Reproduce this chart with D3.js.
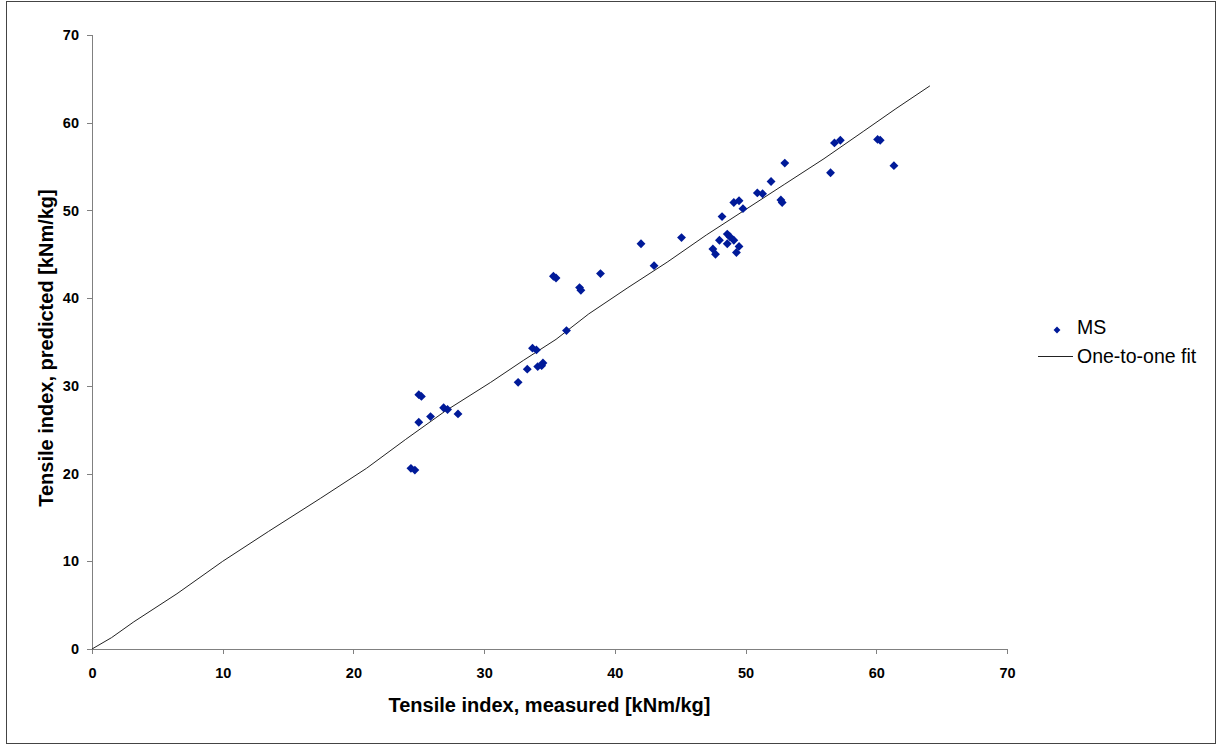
<!DOCTYPE html>
<html>
<head>
<meta charset="utf-8">
<script src="https://cdn.jsdelivr.net/npm/d3@7"></script>
<style>
  body { margin: 0; background: #fff; }
  svg { display: block; font-family: "Liberation Sans", Arial, sans-serif; }
</style>
</head>
<body>
<svg id="chart" width="1219" height="745"></svg>
<script>
// Measured vs predicted tensile index (MS series)
var msMeasured = [24.4, 24.7, 25.0, 25.2, 25.0, 25.9, 26.9, 27.2, 28.0, 32.6, 33.3, 33.7, 34.0, 34.1, 34.5, 34.4, 36.3,
    35.3, 35.5, 37.3, 37.4, 38.9, 42.0, 43.0, 45.1,
    47.5, 47.7, 48.0, 48.2, 48.6, 48.8, 49.1, 48.6, 49.5, 49.3, 49.1, 49.5, 49.8, 50.9, 51.3, 51.95, 52.7, 52.8, 53.0,
    56.5, 56.8, 57.25, 60.1, 60.3, 61.35];
var msPredicted = [20.6, 20.4, 29.0, 28.8, 25.85, 26.5, 27.5, 27.3, 26.8, 30.4, 31.9, 34.3, 34.1, 32.2, 32.6, 32.3, 36.3,
    42.5, 42.3, 41.2, 40.9, 42.8, 46.2, 43.7, 46.9,
    45.6, 45.0, 46.6, 49.3, 47.3, 47.0, 46.6, 46.2, 45.9, 45.2, 50.9, 51.1, 50.2, 52.0, 51.9, 53.3, 51.2, 50.9, 55.4,
    54.3, 57.7, 58.0, 58.1, 58.0, 55.1];

// One-to-one fit line, read as a polyline
var fitX = [0, 1.5, 3.2, 6.5, 10, 13.5, 17.5, 21, 24, 27, 30.5, 33, 35.5, 38, 41, 44, 47, 50, 53, 56, 59, 61.5, 64.1];
var fitY = [0, 1.3, 3.1, 6.3, 10.0, 13.4, 17.2, 20.6, 23.9, 27.1, 30.4, 32.9, 35.3, 38.2, 41.2, 44.1, 47.2, 50.1, 53.0, 55.9, 59.0, 61.6, 64.2];

var axisTicks = [0, 10, 20, 30, 40, 50, 60, 70];
var seriesNames = ["MS", "One-to-one fit"];

var svg = d3.select("#chart");
var markColor = "#001a99";
var axisColor = "#808080";

// outer frame
svg.append("rect")
    .attr("x", 6.5)
    .attr("y", 1.5)
    .attr("width", 1209)
    .attr("height", 742)
    .attr("fill", "none")
    .attr("stroke", "#444")
    .attr("stroke-width", 1);

var x = d3.scaleLinear().domain([0, 70]).range([92, 1007]);
var y = d3.scaleLinear().domain([0, 70]).range([649, 35]);

var xAxis = svg.append("g")
    .attr("transform", "translate(0,649)")
    .call(d3.axisBottom(x).tickValues(axisTicks).tickSize(5).tickSizeOuter(5));
var yAxis = svg.append("g")
    .attr("transform", "translate(92,0)")
    .call(d3.axisLeft(y).tickValues(axisTicks).tickSize(5).tickSizeOuter(5).tickPadding(8));

[xAxis, yAxis].forEach(function (ax) {
    ax.selectAll("path, line").attr("stroke", axisColor).attr("shape-rendering", "crispEdges");
    ax.selectAll("text")
        .attr("fill", "#000")
        .attr("font-size", "14.5px")
        .attr("font-weight", "bold")
        .attr("font-family", "Liberation Sans, Arial, sans-serif");
});
// x labels sit on a fixed baseline under the axis
xAxis.selectAll("text").attr("y", 29).attr("dy", null);

// fit line
var fitLine = d3.line()
    .x(function (d) { return x(d[0]); })
    .y(function (d) { return y(d[1]); });

svg.append("path")
    .datum(d3.zip(fitX, fitY))
    .attr("d", fitLine)
    .attr("fill", "none")
    .attr("stroke", "#222")
    .attr("stroke-width", 1);

// scatter markers
var diamond = d3.symbol().type(d3.symbolDiamond2).size(50);

svg.append("g")
    .selectAll("path")
    .data(d3.zip(msMeasured, msPredicted))
    .join("path")
    .attr("d", diamond)
    .attr("transform", function (d) { return "translate(" + x(d[0]) + "," + y(d[1]) + ")"; })
    .attr("fill", markColor);

// axis titles
svg.append("text")
    .attr("x", 549.5)
    .attr("y", 712)
    .attr("text-anchor", "middle")
    .attr("font-size", "20px")
    .attr("font-weight", "bold")
    .text("Tensile index, measured [kNm/kg]");

svg.append("text")
    .attr("transform", "translate(53,348) rotate(-90)")
    .attr("text-anchor", "middle")
    .attr("font-size", "20px")
    .attr("font-weight", "bold")
    .text("Tensile index, predicted [kNm/kg]");

// legend
var legend = svg.append("g").attr("transform", "translate(1038,330)");

legend.append("path")
    .attr("d", d3.symbol().type(d3.symbolDiamond2).size(30))
    .attr("transform", "translate(19,0)")
    .attr("fill", markColor);

legend.append("line")
    .attr("x1", 0)
    .attr("x2", 35)
    .attr("y1", 26.5)
    .attr("y2", 26.5)
    .attr("stroke", "#222")
    .attr("stroke-width", 1);

legend.selectAll("text")
    .data(seriesNames)
    .join("text")
    .attr("x", 39)
    .attr("y", function (d, i) { return 4 + i * 29; })
    .attr("font-size", "19.5px")
    .attr("fill", "#000")
    .text(function (d) { return d; });
</script>
</body>
</html>
